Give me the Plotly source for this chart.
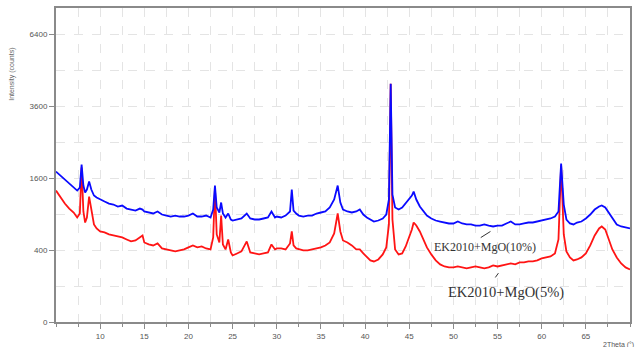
import numpy as np
import plotly.graph_objects as go

two_theta = [5.0, 5.5, 6.0, 6.5, 7.0, 7.4, 7.7, 7.9, 8.1, 8.3, 8.5, 8.75, 9.0, 9.3, 9.6,
             10.0, 10.5, 11.0, 11.5, 12.0, 12.5, 13.0, 13.5, 14.0, 14.5, 14.8, 15.0, 15.5,
             16.0, 16.5, 17.0, 17.5, 18.0, 18.5, 19.0, 19.5, 20.0, 20.5, 21.0, 21.5, 22.0,
             22.5, 22.8, 23.0, 23.2, 23.5, 23.7, 23.9, 24.2, 24.5, 24.8, 25.0, 25.5, 26.0,
             26.6, 27.0, 27.5, 28.0, 28.5, 29.0, 29.4, 29.8, 30.0, 30.5, 31.0, 31.5, 31.7,
             31.9, 32.2, 32.5, 33.0, 33.5, 34.0, 34.5, 35.0, 35.5, 36.0, 36.5, 36.9, 37.2,
             37.5, 38.0, 38.5, 39.0, 39.4, 39.8, 40.2, 40.6, 41.0, 41.5, 42.0, 42.4, 42.7,
             42.9, 43.1, 43.4, 43.8, 44.2, 44.6, 45.0, 45.3, 45.5, 45.8, 46.2, 46.6, 47.0,
             47.5, 48.0, 48.5, 49.0, 49.5, 50.0, 50.5, 51.0, 51.5, 52.0, 52.5, 53.0, 53.5,
             54.0, 54.5, 55.0, 55.5, 56.0, 56.5, 57.0, 57.5, 58.0, 58.5, 59.0, 59.5, 60.0,
             60.5, 61.0, 61.5, 61.9, 62.2, 62.5, 62.8, 63.2, 63.6, 64.0, 64.5, 65.0, 65.5,
             66.0, 66.5, 66.8, 67.2, 67.6, 68.0, 68.5, 69.0, 69.5, 70.0]

mgo_10 = [1752, 1661, 1571, 1485, 1421, 1338, 1400, 1919, 1442, 1298, 1359, 1528, 1359, 1239, 1200,
          1162, 1124, 1087, 1069, 1033, 1051, 997, 980, 963, 997, 980, 946, 929,
          912, 946, 895, 878, 862, 878, 862, 862, 878, 912, 862, 862, 878,
          846, 980, 1442, 1015, 929, 1106, 912, 846, 912, 814, 798, 814, 830,
          912, 830, 814, 814, 830, 846, 946, 846, 862, 846, 878, 946, 1359,
          963, 912, 878, 862, 878, 878, 912, 929, 946, 1015, 1162, 1442, 1106,
          980, 946, 929, 946, 980, 895, 846, 814, 782, 798, 830, 895, 1162,
          4397, 1258, 1015, 980, 1015, 1087, 1162, 1239, 1318, 1162, 1033, 946, 878,
          830, 798, 782, 767, 752, 752, 782, 752, 737, 737, 721, 721, 737,
          721, 707, 721, 721, 752, 782, 737, 737, 752, 767, 767, 782, 798,
          814, 830, 862, 946, 1943, 1069, 814, 752, 737, 767, 782, 830, 895,
          980, 1033, 1051, 1015, 929, 830, 737, 707, 692, 678]

mgo_5 = [1338, 1200, 1087, 997, 929, 846, 912, 1847, 946, 767, 846, 1219, 946, 737, 678,
         635, 621, 594, 580, 567, 554, 528, 503, 515, 554, 580, 490, 466,
         454, 478, 419, 408, 397, 386, 397, 408, 431, 454, 431, 442, 419,
         408, 554, 1400, 594, 490, 878, 466, 408, 528, 375, 343, 364, 386,
         503, 375, 364, 354, 364, 375, 466, 408, 419, 419, 408, 478, 635,
         454, 419, 408, 397, 397, 408, 419, 431, 454, 490, 607, 912, 635,
         515, 490, 454, 408, 408, 364, 323, 294, 284, 303, 354, 431, 737,
         4397, 814, 408, 354, 364, 442, 554, 663, 767, 721, 635, 528, 431,
         354, 294, 257, 239, 231, 231, 239, 231, 223, 231, 239, 231, 223,
         231, 248, 239, 248, 257, 266, 257, 275, 275, 284, 284, 294, 313,
         323, 333, 364, 528, 1895, 594, 386, 323, 294, 303, 323, 364, 454,
         580, 678, 707, 663, 528, 408, 323, 266, 231, 214]

y_tick_values = [0, 400, 1600, 3600, 6400]
y_tick_labels = ["0", "400", "1600", "3600", "6400"]
y_grid_values = [100, 900, 2500, 4900]
x_tick_values = [10, 15, 20, 25, 30, 35, 40, 45, 50, 55, 60, 65]
label_10 = "EK2010+MgO(10%)"
label_5 = "EK2010+MgO(5%)"

sq = np.sqrt

fig = go.Figure()
fig.add_trace(go.Scatter(x=two_theta, y=sq(mgo_5), mode="lines",
                         line=dict(color="#ff1414", width=1.8), name=label_5))
fig.add_trace(go.Scatter(x=two_theta, y=sq(mgo_10), mode="lines",
                         line=dict(color="#0a0aff", width=1.8), name=label_10))

grid_col = "#e4e4e4"
axis_col = "#8a8a8a"
tick_font = dict(family="Liberation Sans, Arial, sans-serif", size=8, color="#555555")

fig.update_xaxes(range=[5, 70], tickvals=x_tick_values, ticks="outside", ticklen=5,
                 tickcolor=axis_col, tickwidth=1, showline=True, linecolor=axis_col,
                 linewidth=2, mirror=True, showgrid=True, gridcolor=grid_col,
                 griddash="dash", gridwidth=1, zeroline=False, tickfont=tick_font,
                 minor=dict(dtick=2.5, tick0=7.5, ticks="outside", ticklen=3,
                            tickcolor=axis_col, showgrid=True, gridcolor=grid_col,
                            griddash="dash"))
fig.update_yaxes(range=[0, 87.4], tickvals=[float(v) for v in sq(y_tick_values)],
                 ticktext=y_tick_labels, ticks="outside", ticklen=5, tickcolor=axis_col,
                 showline=True, linecolor=axis_col, linewidth=2, mirror=True,
                 showgrid=True, gridcolor=grid_col, griddash="dash", zeroline=False,
                 tickfont=tick_font,
                 minor=dict(tickvals=[float(v) for v in sq(y_grid_values)], ticks="",
                            showgrid=True, gridcolor=grid_col, griddash="dash"))

serif = "Liberation Serif, Times New Roman, serif"
fig.add_annotation(x=53.6, y=20.8, text=label_10, showarrow=False,
                   font=dict(family=serif, size=12, color="#333333"))
fig.add_annotation(x=56.0, y=8.3, text=label_5, showarrow=False,
                   font=dict(family=serif, size=14.5, color="#333333"))
fig.add_shape(type="line", x0=53.1, y0=23.5, x1=54.2, y1=25.2,
              line=dict(color="#333333", width=1))
fig.add_shape(type="line", x0=54.75, y0=12.4, x1=55.1, y1=13.6,
              line=dict(color="#333333", width=1))

fig.add_annotation(xref="paper", yref="paper", x=-0.086, y=0.88, text="Intensity (counts)",
                   textangle=-90, showarrow=False,
                   font=dict(family="Liberation Sans, Arial, sans-serif", size=7, color="#666666"))
fig.add_annotation(xref="paper", yref="paper", x=1.01, y=-0.055, xanchor="right",
                   yanchor="top", text="2Theta (°)", showarrow=False,
                   font=dict(family="Liberation Sans, Arial, sans-serif", size=7, color="#555555"))

fig.update_layout(width=638, height=347, margin=dict(l=56, r=6, t=8, b=24),
                  paper_bgcolor="white", plot_bgcolor="white", showlegend=False)

fig.write_html("out.html", config={"displayModeBar": False})

# remove the browser's default page margin so the figure sits at the window origin
with open("out.html", "r", encoding="utf-8") as f:
    html = f.read()
html = html.replace("<head>", "<head><style>html,body{margin:0;padding:0;overflow:hidden;}</style>", 1)
with open("out.html", "w", encoding="utf-8") as f:
    f.write(html)
